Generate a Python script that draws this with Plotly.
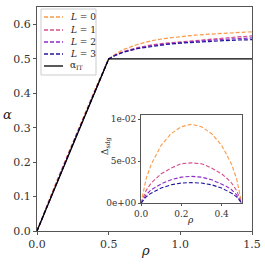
import plotly.graph_objects as go

# ---- data ----
rho_low = [0.0, 0.025, 0.05, 0.075, 0.1, 0.15, 0.2, 0.25, 0.3, 0.35, 0.4, 0.425, 0.45, 0.475, 0.5]
delta_L0 = [0, 0.0029, 0.0046, 0.0058, 0.0069, 0.0083, 0.0091, 0.0094, 0.0091, 0.0083, 0.0069, 0.0058, 0.0046, 0.0029, 0]
delta_L1 = [0, 0.0015, 0.0024, 0.0030, 0.0035, 0.0042, 0.0047, 0.0048, 0.0047, 0.0042, 0.0035, 0.0030, 0.0024, 0.0015, 0]
delta_L2 = [0, 0.0010, 0.0016, 0.0020, 0.0023, 0.0028, 0.0031, 0.0032, 0.0031, 0.0028, 0.0023, 0.0020, 0.0016, 0.0010, 0]
delta_L3 = [0, 0.00076, 0.0012, 0.0015, 0.0018, 0.0022, 0.0024, 0.00245, 0.0024, 0.0022, 0.0018, 0.0015, 0.0012, 0.00076, 0]

rho_high = [0.55, 0.6, 0.7, 0.8, 0.9, 1.0, 1.1, 1.2, 1.3, 1.4, 1.5]
alpha_L0 = [0.515, 0.527, 0.542, 0.553, 0.560, 0.565, 0.569, 0.572, 0.575, 0.577, 0.579]
alpha_L1 = [0.512, 0.521, 0.533, 0.541, 0.546, 0.550, 0.554, 0.558, 0.561, 0.564, 0.567]
alpha_L2 = [0.512, 0.520, 0.531, 0.539, 0.544, 0.548, 0.551, 0.554, 0.557, 0.559, 0.561]
alpha_L3 = [0.511, 0.519, 0.530, 0.537, 0.542, 0.546, 0.549, 0.551, 0.553, 0.555, 0.556]

it_rho = [0.0, 0.5, 1.5]
it_alpha = [0.0, 0.5, 0.5]

labels = ["<i>L</i> = 0", "<i>L</i> = 1", "<i>L</i> = 2", "<i>L</i> = 3"]
it_label = "α<sub>IT</sub>"
colors = ["#f99a48", "#d5508a", "#8e2bc9", "#22179b"]

deltas = [delta_L0, delta_L1, delta_L2, delta_L3]
alphas_high = [alpha_L0, alpha_L1, alpha_L2, alpha_L3]

FONT = "DejaVu Serif"
W, H = 265, 264
ML, MR, MT, MB = 37, 13, 7, 33
PW, PH = W - ML - MR, H - MT - MB


def px2paper(px, py):
    return (px - ML) / PW, (H - MB - py) / PH


fig = go.Figure()
DASH = "4px,2px"

for lab, col, d, ah in zip(labels, colors, deltas, alphas_high):
    xs = rho_low + rho_high
    ys = [r + v for r, v in zip(rho_low, d)] + ah
    fig.add_trace(go.Scatter(x=xs, y=ys, mode="lines", name=lab, showlegend=False,
                             line=dict(color=col, width=1.2, dash=DASH),
                             xaxis="x", yaxis="y"))

fig.add_trace(go.Scatter(x=it_rho, y=it_alpha, mode="lines", name=it_label, showlegend=False,
                         line=dict(color="black", width=1.3), xaxis="x", yaxis="y"))

for lab, col, d in zip(labels, colors, deltas):
    fig.add_trace(go.Scatter(x=rho_low, y=d, mode="lines", showlegend=False,
                             line=dict(color=col, width=1.1, dash=DASH),
                             xaxis="x2", yaxis="y2"))

axis_common = dict(showline=True, mirror=True, linecolor="#555", linewidth=1,
                   ticks="outside", ticklen=3, tickcolor="#555", showgrid=False,
                   zeroline=False, automargin=False,
                   tickfont=dict(family=FONT, size=11, color="#333"))
inset_common = {**axis_common, "tickfont": dict(family=FONT, size=9, color="#333"), "ticklen": 2}

shapes = []
annotations = []

# manual legend (compact, like the reference)
lx0, ly0 = px2paper(41, 9)
lx1, ly1 = px2paper(96, 75)
shapes.append(dict(type="rect", xref="paper", yref="paper", x0=lx0, y0=ly1, x1=lx1, y1=ly0,
                   line=dict(color="#ccc", width=1), fillcolor="rgba(255,255,255,0.9)", layer="above"))
leg_items = list(zip(labels, colors, [DASH] * 4)) + [(it_label, "black", "solid")]
leg_y = [17, 30, 42, 54, 66]
for (lab, col, dash), py in zip(leg_items, leg_y):
    xa, ya = px2paper(44, py)
    xb, _ = px2paper(63, py)
    shapes.append(dict(type="line", xref="paper", yref="paper", x0=xa, x1=xb, y0=ya, y1=ya,
                       line=dict(color=col, width=1.3, dash=dash), layer="above"))
    xt, yt = px2paper(68, py)
    annotations.append(dict(text=lab, xref="paper", yref="paper", x=xt, y=yt,
                            xanchor="left", yanchor="middle", showarrow=False,
                            font=dict(family=FONT, size=9, color="#222")))

# axis titles
for txt, (px, py), size, ang in [("<i>α</i>", (8, 115), 13, 0),
                                 ("<i>ρ</i>", (145, 251), 13, 0),
                                 ("<i>ρ</i>", (190, 220), 9, 0),
                                 ("Δ<sub>sdg</sub>", (106, 146), 9, -90)]:
    xp, yp = px2paper(px, py)
    annotations.append(dict(text=txt, xref="paper", yref="paper", x=xp, y=yp,
                            xanchor="center", yanchor="middle", showarrow=False, textangle=ang,
                            font=dict(family=FONT, size=size, color="#222")))

fig.update_layout(
    width=W, height=H,
    margin=dict(l=ML, r=MR, t=MT, b=MB),
    paper_bgcolor="white", plot_bgcolor="white",
    font=dict(family=FONT, color="#222"),
    xaxis=dict(range=[0, 1.5], tickvals=[0, 0.5, 1.0, 1.5],
               ticktext=["0.0", "0.5", "1.0", "1.5"], **axis_common),
    yaxis=dict(range=[0, 0.651], tickvals=[0, 0.1, 0.2, 0.3, 0.4, 0.5, 0.6],
               ticktext=["0.0", "0.1", "0.2", "0.3", "0.4", "0.5", "0.6"], **axis_common),
    xaxis2=dict(domain=[0.484, 0.952], anchor="y2", range=[0, 0.5],
                tickvals=[0, 0.2, 0.4], ticktext=["0.0", "0.2", "0.4"], **inset_common),
    yaxis2=dict(domain=[0.124, 0.518], anchor="x2", range=[0, 0.0105],
                tickvals=[0, 0.005, 0.01], ticktext=["0e+00", "5e-03", "1e-02"], **inset_common),
    shapes=shapes,
    annotations=annotations,
    showlegend=False,
)

fig.write_html("out.html", config={"displayModeBar": False},
               post_script="document.body.style.margin='0';document.body.style.overflow='hidden';")
